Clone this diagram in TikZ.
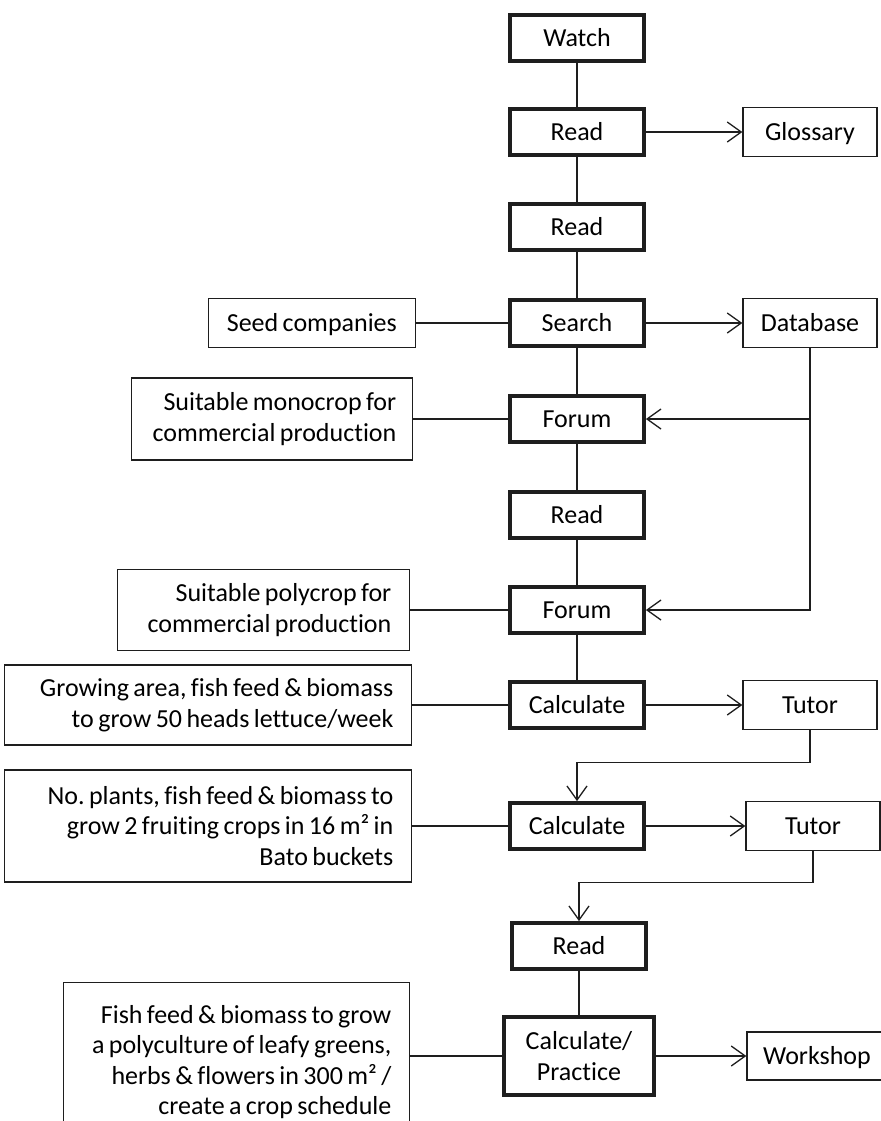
\documentclass[tikz,border=0pt]{standalone}
\usepackage{fontspec}
\setmainfont{Carlito}[Ligatures=CommonOff, WordSpace=0.75]
\usepackage{tikz}
\usetikzlibrary{arrows.meta}
\definecolor{inkline}{HTML}{1E1E1E}
\frenchspacing

\begin{document}
\begin{tikzpicture}[x=0.5pt, y=-0.5pt,
    every node/.style={draw=inkline, font=\fontsize{13}{15.3}\selectfont, inner sep=0pt},
    thickframe/.style={line width=1.9pt},
    thinframe/.style={line width=0.65pt},
    onerow/.style={text height=10.4pt, text depth=2pt},
    mainbox/.style={thickframe, onerow, minimum width=67pt, minimum height=23pt},
    sidebox/.style={thinframe, onerow, minimum width=67pt, minimum height=24.5pt},
    notebox/.style={thinframe, align=flush right, inner xsep=9pt, text width=#1, anchor=east},
    link/.style={draw=inkline, line width=0.65pt},
    arr/.style={link, -{Straight Barb[length=7pt,width=10pt]}}
]
\useasboundingbox (0,0) rectangle (881,1121);
% main column
\node[mainbox] (watch) at (577,38) {Watch};
\node[mainbox] (read1) at (577,132) {Read};
\node[mainbox] (read2) at (577,227) {Read};
\node[mainbox] (search) at (577,323) {Search};
\node[mainbox] (forum1) at (577,419) {Forum};
\node[mainbox] (read3) at (577,515) {Read};
\node[mainbox] (forum2) at (577,610) {Forum};
\node[mainbox] (calc1) at (577,705) {Calculate};
\node[mainbox] (calc2) at (577,826) {Calculate};
\node[mainbox] (read4) at (579,946) {Read};
\node[thickframe, minimum width=75pt, minimum height=39pt, align=center] (calcp) at (579,1056) {Calculate/\\Practice};
% right side
\node[sidebox] (glossary) at (810,132) {Glossary};
\node[sidebox] (database) at (810,323) {Database};
\node[sidebox] (tutor1) at (810,705) {Tutor};
\node[sidebox] (tutor2) at (813,826) {Tutor};
\node[sidebox, minimum width=70pt, minimum height=24pt] (workshop) at (817,1056) {Workshop};
% left side
\node[sidebox, minimum width=103.5pt, anchor=east] (seed) at (416,323) {Seed companies};
\node[notebox=124.5pt, inner xsep=8pt, minimum height=41pt] (mono) at (413,419) {Suitable monocrop for\\commercial production};
\node[notebox=128pt, minimum height=40.5pt] (poly) at (410,610) {Suitable polycrop for\\commercial production};
\node[notebox=185.5pt, minimum height=40pt] (grow) at (412,705) {Growing area, fish feed \& biomass\\to grow 50 heads lettuce/week};
\node[notebox=185.5pt, minimum height=56pt] (plants) at (412,826) {No. plants, fish feed \& biomass to\\grow 2 fruiting crops in 16 m² in\\Bato buckets};
\node[notebox=155pt, minimum height=79.5pt] (fish) at (410,1062) {Fish feed \& biomass to grow\\a polyculture of leafy greens,\\herbs \& flowers in 300 m² /\\create a crop schedule};

\draw[link] (watch) -- (read1) -- (read2) -- (search) -- (forum1) -- (read3) -- (forum2) -- (calc1);
\draw[link] (read4) -- (calcp);
\draw[arr] (read1) -- (glossary);
\draw[link] (seed) -- (search);
\draw[arr] (search) -- (database);
\draw[arr] (database.south) |- (forum2.east);
\draw[arr] (database.south |- forum1.east) -- (forum1.east);
\draw[link] (mono) -- (forum1);
\draw[link] (poly) -- (forum2);
\draw[link] (grow) -- (calc1);
\draw[arr] (calc1) -- (tutor1);
\draw[arr] (tutor1.south) -- ++(0,32) -| (calc2.north);
\draw[link] (plants) -- (calc2);
\draw[arr] (calc2) -- (tutor2);
\draw[arr] (tutor2.south) -- ++(0,31) -| (read4.north);
\draw[link] (fish.east |- calcp.west) -- (calcp.west);
\draw[arr] (calcp) -- (workshop);
\end{tikzpicture}
\end{document}
